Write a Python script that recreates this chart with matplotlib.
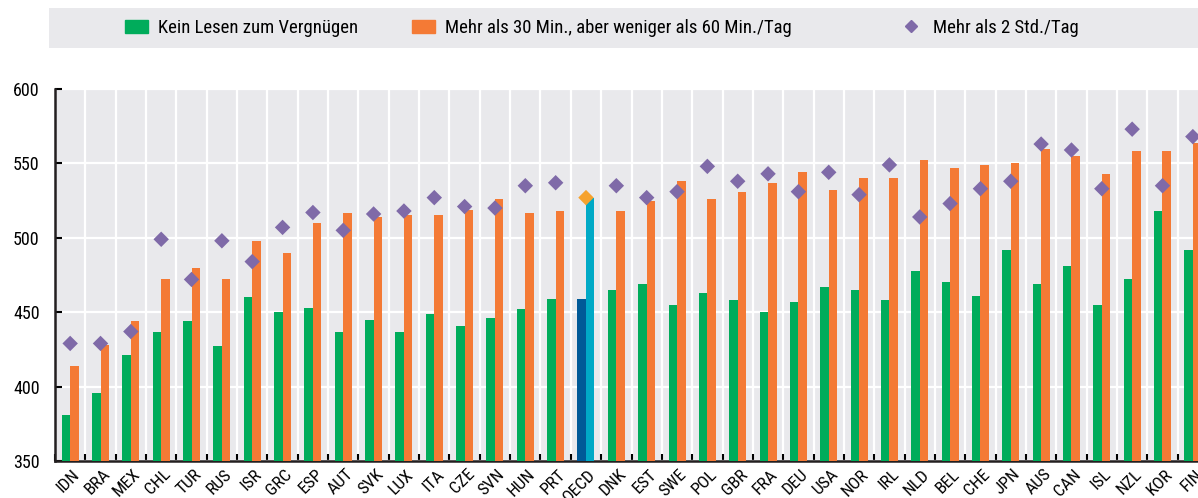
import matplotlib.pyplot as plt
import matplotlib.patches as mpatches
from matplotlib.lines import Line2D
from matplotlib.ticker import FixedLocator
import matplotlib.transforms as mtransforms
import numpy as np

plt.rcParams['font.family'] = ['Liberation Sans Narrow', 'Roboto Condensed', 'DejaVu Sans']

countries = ["IDN", "BRA", "MEX", "CHL", "TUR", "RUS", "ISR", "GRC", "ESP", "AUT",
             "SVK", "LUX", "ITA", "CZE", "SVN", "HUN", "PRT", "OECD", "DNK", "EST",
             "SWE", "POL", "GBR", "FRA", "DEU", "USA", "NOR", "IRL", "NLD", "BEL",
             "CHE", "JPN", "AUS", "CAN", "ISL", "NZL", "KOR", "FIN"]

# kein Lesen zum Vergnuegen
no_reading = [381, 396, 421, 437, 444, 427, 460, 450, 453, 437,
              445, 437, 449, 441, 446, 452, 459, 459, 465, 469,
              455, 463, 458, 450, 457, 467, 465, 458, 478, 470,
              461, 492, 469, 481, 455, 472, 518, 492]

# 30 bis 60 Min. pro Tag
min_30_60 = [414, 428, 444, 472, 480, 472, 498, 490, 510, 517,
             514, 515, 515, 519, 526, 517, 518, 527, 518, 525,
             538, 526, 531, 537, 544, 532, 540, 540, 552, 547,
             549, 550, 560, 555, 543, 558, 558, 564]

# mehr als 2 Std. pro Tag
more_2h = [429, 429, 437, 499, 472, 498, 484, 507, 517, 505,
           516, 518, 527, 521, 520, 535, 537, 527, 535, 527,
           531, 548, 538, 543, 531, 544, 529, 549, 514, 523,
           533, 538, 563, 559, 533, 573, 535, 568]

green = "#00ac5b"
orange = "#f47a35"
purple = "#7f6aa8"
grey_bg = "#e9e9ec"

fig = plt.figure(figsize=(11.98, 4.98), dpi=100)
ax = fig.add_axes([55 / 1198, 37 / 498, 1 - 55 / 1198, 372 / 498])
ax.set_facecolor(grey_bg)

x = np.arange(len(countries))
w = 0.28
oecd = countries.index("OECD")

c_green = [green] * len(x)
c_orange = [orange] * len(x)
c_diam = [purple] * len(x)
c_green[oecd] = "#005a97"
c_orange[oecd] = "#00a9c6"
c_diam[oecd] = "#f6a22d"

ax.bar(x - w / 2, np.array(no_reading) - 350, w, bottom=350, color=c_green, zorder=3)
ax.bar(x + w / 2, np.array(min_30_60) - 350, w, bottom=350, color=c_orange, zorder=3)
ax.scatter(x, more_2h, marker="D", s=62, c=c_diam, edgecolors="none", zorder=4)

ax.set_ylim(350, 600)
ax.set_xlim(-0.5, 37.17)
ax.set_yticks([350, 400, 450, 500, 550, 600])
ax.set_xticks(x)
ax.xaxis.set_minor_locator(FixedLocator(np.arange(-0.5, 38, 1)))
ax.grid(axis="y", which="major", color="white", lw=1.6, zorder=1)
ax.grid(axis="x", which="minor", color="white", lw=1.6, zorder=1)
ax.grid(axis="x", which="major", visible=False)

ax.tick_params(axis="y", direction="in", length=5, width=1.5, labelsize=13, pad=11)
ax.tick_params(axis="x", which="major", length=0, labelsize=12.5, pad=4)
ax.tick_params(axis="x", which="minor", direction="in", length=5, width=1.5)

offset = mtransforms.ScaledTranslation(2 / 100, 0, fig.dpi_scale_trans)
ax.set_xticklabels(countries, rotation=45, ha="right", va="top", rotation_mode="anchor")
for lab in ax.get_xticklabels():
    lab.set_transform(lab.get_transform() + offset)

for s in ["top", "right"]:
    ax.spines[s].set_visible(False)
for s in ["left", "bottom"]:
    ax.spines[s].set_linewidth(1.8)
    ax.spines[s].set_color("#231f20")

# Legendenband oben
band = mpatches.Rectangle((49 / 1198, 1 - 48 / 498), 1 - 49 / 1198, 40 / 498,
                          transform=fig.transFigure, facecolor=grey_bg,
                          edgecolor="none", zorder=0)
fig.patches.append(band)

handles = [mpatches.Patch(color=green),
           mpatches.Patch(color=orange),
           Line2D([], [], marker="D", color=purple, ls="none", markersize=6)]
labels = ["Kein Lesen zum Vergnügen",
          "Mehr als 30 Min., aber weniger als 60 Min./Tag",
          "Mehr als 2 Std./Tag"]
legend_x = [125, 412, 900]
for h, lab, lx in zip(handles, labels, legend_x):
    fig.legend([h], [lab], loc="center left", bbox_to_anchor=(lx / 1198, 1 - 28 / 498),
               frameon=False, fontsize=13.5, handlelength=1.2, handleheight=0.75,
               handletextpad=0.55, borderpad=0, borderaxespad=0)

fig.savefig("out.png", dpi=100)
